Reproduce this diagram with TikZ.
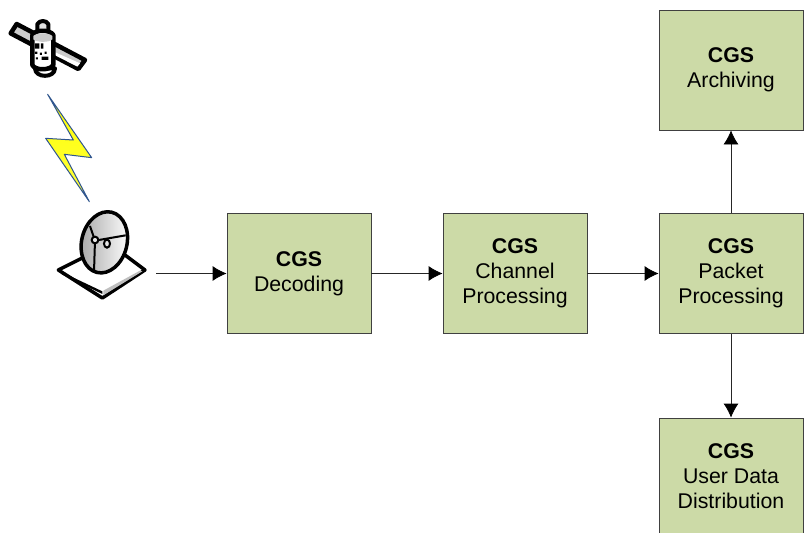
\documentclass[tikz,border=0pt]{standalone}
\usepackage{fontspec}
\setmainfont{Liberation Sans}
\usetikzlibrary{arrows.meta}
\definecolor{boxfill}{HTML}{CCDAA7}
\definecolor{boltblue}{HTML}{2F5590}
\tikzset{
  cgsbox/.style={draw=black!75,line width=0.8pt,fill=boxfill,minimum width=144pt,align=center,inner sep=0pt,font=\fontsize{21.3}{25}\selectfont},
  link/.style={draw=black!85,line width=0.8pt,-{Latex[length=14pt,width=15pt,black]}},
  icon/.style={line width=3pt,draw=black,line join=round},
}
\begin{document}
\begin{tikzpicture}[x=1pt,y=-1pt]
\useasboundingbox (0,0) rectangle (809,533);
\clip (0,0) rectangle (809,533);
\node[cgsbox,minimum height=120pt] (dec) at (299,273.5) {\textbf{CGS}\\Decoding};
\node[cgsbox,minimum height=120pt] (chan) at (515,273.5) {\textbf{CGS}\\Channel\\Processing};
\node[cgsbox,minimum height=120pt] (pack) at (731,273.5) {\textbf{CGS}\\Packet\\Processing};
\node[cgsbox,minimum height=120pt] (arch) at (731,70) {\textbf{CGS}\\Archiving};
\node[cgsbox,minimum height=117pt] (user) at (731,476.5) {\textbf{CGS}\\User Data\\Distribution};
\coordinate (dishout) at (156,273.5);
\draw[link] (dishout) -- (dec.west);
\draw[link] (dec.east) -- (chan.west);
\draw[link] (chan.east) -- (pack.west);
\draw[link] (pack.north) -- (arch.south);
\draw[link] (pack.south) -- (user.north);
% lightning bolt
\begin{scope}[shift={(30,85)},x=0.3333pt,y=-0.3333pt]
\shadedraw[draw=boltblue,line width=1pt,line join=round,top color=yellow,bottom color=yellow!75!white]
 (53,28) -- (130,165) -- (47,160) -- (178,350) -- (103,208) -- (185,218) -- cycle;
\end{scope}
% satellite
\begin{scope}[x=0.3333pt,y=-0.3333pt]
\filldraw[icon,line width=4.5pt,fill=black!20] (50,72) -- (255,180) -- (235,207) -- (32,100) -- cycle;
\fill[white] (150,150) -- (240,190) -- (232,200) -- (150,158) -- cycle;
\filldraw[icon,line width=4pt,fill=white] (105,205) .. controls (105,235) and (165,235) .. (165,205) -- cycle;
\filldraw[icon,line width=4pt,fill=black!12] (112,72) .. controls (120,60) and (138,60) .. (145,72) -- (145,100) -- (112,100) -- cycle;
\filldraw[icon,line width=4.5pt,fill=white] (97,105) .. controls (105,88) and (150,88) .. (160,105) -- (160,195) .. controls (150,212) and (105,212) .. (97,195) -- cycle;
\fill[black!20] (100,108) .. controls (110,98) and (148,98) .. (157,108) -- (157,118) .. controls (148,128) and (110,128) .. (100,118) -- cycle;
\fill[black] (105,130) rectangle (118,146) (123,130) rectangle (130,146) (105,155) rectangle (112,162) (120,158) rectangle (126,165) (134,155) rectangle (140,162) (125,170) rectangle (145,180) (108,172) rectangle (114,178);
\end{scope}
% dish
\begin{scope}[shift={(45,200)},x=0.3333pt,y=-0.3333pt]
\filldraw[icon,line width=3.5pt,fill=white] (40,210) -- (130,165) -- (240,165) -- (300,210) -- (172,294) -- cycle;
\fill[black] (54,218) -- (172,274) -- (172,282) -- (50,223) -- cycle;
\fill[black!25] (175,272) -- (285,212) -- (292,214) -- (175,286) -- cycle;
\shadedraw[icon,line width=3.5pt,left color=black!35,right color=white] (178,127) ellipse [x radius=68,y radius=93,rotate=-14];
\draw[line width=2pt,line join=round] (135,78) -- (150,122) -- (147,216) (150,122) -- (242,106);
\filldraw[line width=2pt,fill=black!10] (150,120) circle [radius=10];
\filldraw[line width=2pt,fill=black!10] (186,131) circle [x radius=9,y radius=12];
\end{scope}
\end{tikzpicture}
\end{document}
